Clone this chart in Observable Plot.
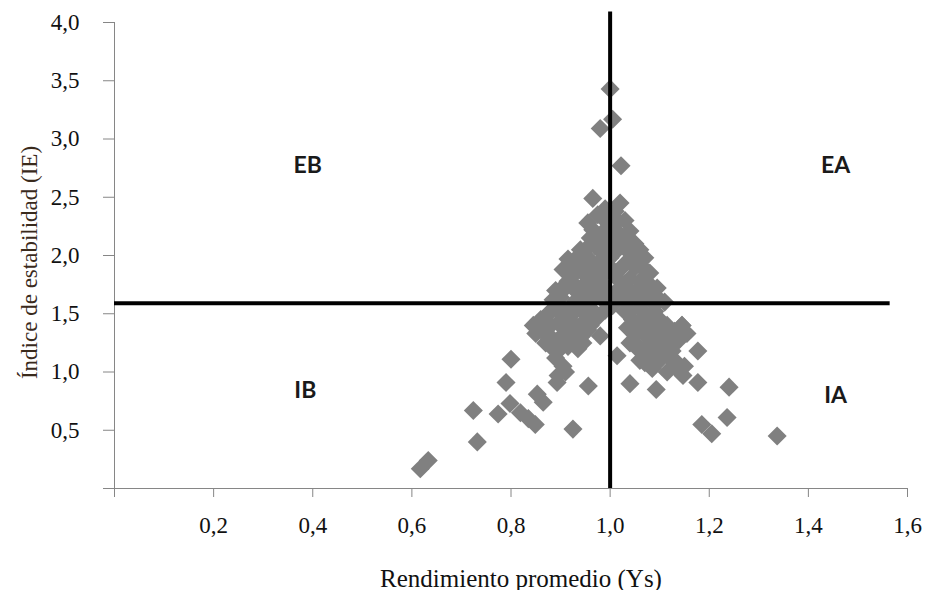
<!DOCTYPE html>
<html>
<head>
<meta charset="utf-8">
<script src="https://cdn.jsdelivr.net/npm/d3@7"></script>
<script src="https://cdn.jsdelivr.net/npm/@observablehq/plot@0.6"></script>
<style>
  body { margin: 0; background: #fff; }
  #chart svg [aria-label="x-axis tick"], #chart svg [aria-label="y-axis tick"] { stroke: #868686; }
  #chart svg [aria-label="x-axis tick label"], #chart svg [aria-label="y-axis tick label"] {
    fill: #111; font-family: "Liberation Serif", "Times New Roman", serif; font-size: 23px;
  }
  #chart svg .titulo-x { font-family: "Liberation Serif", "Times New Roman", serif; font-size: 25px; }
  #chart svg .titulo-y { font-family: "Liberation Serif", "Times New Roman", serif; font-size: 23px; }
  #chart svg .cuadrante { font-family: Lato, "Open Sans", sans-serif; font-weight: bold; font-size: 23px; }
</style>
</head>
<body>
<div id="chart"></div>
<script>
// Rendimiento promedio (Ys) of each genotype
const rendimiento = [
  1.00, 0.98, 1.005, 1.022, 0.965, 1.02,
  0.955, 0.975, 0.99, 1.01, 1.04, 1.03,
  0.96, 0.985, 1.005, 1.02, 1.05,
  0.94, 0.97, 0.995, 1.015, 1.04, 1.06, 1.07,
  0.915, 0.935, 0.955, 0.98, 1.0, 1.03, 1.05, 1.07, 1.08,
  0.905, 0.925, 0.945, 0.965, 0.99, 1.01, 1.04, 1.06, 1.08, 1.095,
  0.89, 0.91, 0.935, 0.955, 0.975, 0.995, 1.02, 1.045, 1.065, 1.09, 1.1, 1.11,
  0.885, 0.90, 0.93, 0.96, 0.985, 1.005, 1.03, 1.06, 1.085,
  0.965, 0.99, 1.015, 0.975, 1.03, 0.95, 0.985, 1.05, 0.93, 0.965, 1.0, 1.02,
  1.06, 0.915, 0.95, 0.98, 1.03, 1.07, 0.90, 0.945, 1.01, 1.055, 1.08,
  0.93, 0.97, 1.04, 1.07, 0.96, 0.99, 1.01, 0.95,
  1.005, 0.99,
  0.845, 0.86, 0.875, 0.89, 0.905, 0.92, 0.935, 0.95, 0.965,
  0.85, 0.865, 0.88, 0.895, 0.91, 0.925, 0.94, 0.955,
  0.87, 0.885, 0.90, 0.915, 0.93, 0.945,
  0.89, 0.905, 0.895, 0.91,
  0.865, 0.88, 0.905, 0.925, 0.87, 0.905, 0.935, 0.895, 0.92, 0.96,
  0.88, 0.94, 0.96, 0.91,
  0.98, 0.975,
  0.80, 0.79, 0.893, 0.956, 0.853, 0.865, 0.798, 0.774, 0.724, 0.732,
  0.617, 0.633, 0.819, 0.835, 0.849, 0.925,
  1.03, 1.045, 1.06, 1.075, 1.09, 1.10, 1.115, 1.13, 1.145,
  1.035, 1.05, 1.065, 1.08, 1.095, 1.11, 1.125, 1.14, 1.155,
  1.04, 1.06, 1.075, 1.09, 1.105, 1.12, 1.135, 1.15,
  1.07, 1.085, 1.10, 1.115,
  1.04, 1.055, 1.085, 1.07, 1.10, 1.05, 1.085, 1.12, 1.10, 1.125, 1.07, 1.13,
  1.05, 1.10, 1.12, 1.06, 1.09,
  1.014, 1.04, 1.093, 1.147, 1.177, 1.177, 1.145,
  1.185, 1.205, 1.236, 1.24, 1.337
];

// Índice de estabilidad (IE) of each genotype
const estabilidad = [
  3.43, 3.09, 3.17, 2.77, 2.49, 2.45,
  2.28, 2.35, 2.40, 2.38, 2.21, 2.30,
  2.15, 2.20, 2.25, 2.18, 2.10,
  2.05, 2.08, 2.12, 2.05, 2.02, 2.05, 1.98,
  1.97, 1.99, 1.92, 1.95, 1.98, 1.93, 1.90, 1.88, 1.85,
  1.88, 1.83, 1.85, 1.80, 1.85, 1.82, 1.80, 1.78, 1.75, 1.72,
  1.70, 1.75, 1.72, 1.68, 1.72, 1.70, 1.72, 1.68, 1.66, 1.65, 1.62, 1.60,
  1.62, 1.64, 1.61, 1.63, 1.62, 1.64, 1.61, 1.62, 1.60,
  2.22, 2.30, 2.30, 2.12, 2.12, 2.05, 2.02, 1.98, 1.90, 1.88, 1.90, 1.88,
  1.95, 1.78, 1.76, 1.78, 1.76, 1.72, 1.68, 1.65, 1.68, 1.70, 1.68,
  1.70, 1.66, 1.64, 1.62, 1.96, 2.05, 2.15, 1.85,
  1.57, 1.53,
  1.40, 1.45, 1.50, 1.55, 1.52, 1.48, 1.55, 1.50, 1.45,
  1.33, 1.37, 1.30, 1.42, 1.38, 1.33, 1.40, 1.36,
  1.25, 1.20, 1.27, 1.22, 1.28, 1.25,
  1.12, 1.05, 0.97, 1.00,
  1.45, 1.40, 1.45, 1.42, 1.32, 1.32, 1.20, 1.18, 1.55, 1.55,
  1.52, 1.30, 1.40, 1.28,
  1.31, 1.47,
  1.11, 0.91, 0.91, 0.88, 0.81, 0.74, 0.73, 0.64, 0.67, 0.40,
  0.17, 0.24, 0.65, 0.60, 0.55, 0.51,
  1.52, 1.45, 1.55, 1.48, 1.52, 1.45, 1.40, 1.35, 1.40,
  1.38, 1.32, 1.38, 1.30, 1.35, 1.28, 1.22, 1.28, 1.33,
  1.25, 1.18, 1.22, 1.15, 1.20, 1.12, 1.08, 1.05,
  1.08, 1.03, 1.10, 1.00,
  1.52, 1.42, 1.42, 1.32, 1.30, 1.25, 1.25, 1.32, 1.15, 1.18, 1.15, 1.05,
  1.38, 1.40, 1.25, 1.10, 1.08,
  1.14, 0.90, 0.85, 0.97, 1.18, 0.91, 1.40,
  0.55, 0.47, 0.61, 0.87, 0.45
];

// Mean yield and mean stability index splitting the four quadrants
const mediaYs = 1.0;
const mediaIE = 1.59;

const cuadrantes = ["EB", "EA", "IB", "IA"];
const cuadranteX = [0.39, 1.455, 0.385, 1.455];
const cuadranteY = [2.77, 2.77, 0.84, 0.80];

const xTicks = [0, 0.2, 0.4, 0.6, 0.8, 1.0, 1.2, 1.4, 1.6];
const xTickLabels = ["", "0,2", "0,4", "0,6", "0,8", "1,0", "1,2", "1,4", "1,6"];
const yTicks = [0, 0.5, 1.0, 1.5, 2.0, 2.5, 3.0, 3.5, 4.0];
const yTickLabels = ["", "0,5", "1,0", "1,5", "2,0", "2,5", "3,0", "3,5", "4,0"];

const puntos = rendimiento.map((x, i) => ({x, y: estabilidad[i]}));
const etiquetas = cuadrantes.map((t, i) => ({t, x: cuadranteX[i], y: cuadranteY[i]}));

const chart = Plot.plot({
  width: 932,
  height: 590,
  marginLeft: 114,
  marginRight: 25,
  marginTop: 22,
  marginBottom: 102,
  x: {domain: [0, 1.6]},
  y: {domain: [0, 4]},
  style: {fontFamily: "Liberation Serif", fontSize: "20px", background: "#fff", overflow: "visible"},
  marks: [
    Plot.axisX({ticks: xTicks, tickFormat: d => xTickLabels[xTicks.indexOf(d)], tickSize: 9, tickPadding: 19, label: null}),
    Plot.axisY({ticks: yTicks, tickFormat: d => yTickLabels[yTicks.indexOf(d)], tickSize: 11, tickPadding: 24, label: null}),
    Plot.ruleX([0], {y1: 0, y2: 4, stroke: "#868686"}),
    Plot.ruleY([0], {x1: 0, x2: 1.6, stroke: "#868686"}),
    Plot.dot(puntos, {x: "x", y: "y", symbol: "diamond2", r: 8.6, fill: "#808080", stroke: null}),
    Plot.ruleY([mediaIE], {x1: 0, x2: 1.565, stroke: "#000", strokeWidth: 4}),
    Plot.ruleX([mediaYs], {y1: 0, y2: 4.09, stroke: "#000", strokeWidth: 4}),
    Plot.text(etiquetas, {x: "x", y: "y", text: "t", className: "cuadrante", fill: "#1a1a1a"}),
    Plot.text(["Rendimiento promedio (Ys)"], {frameAnchor: "bottom", textAnchor: "middle", dx: 10, dy: 98, className: "titulo-x", fill: "#111"}),
    Plot.text(["Índice de estabilidad (IE)"], {frameAnchor: "left", textAnchor: "middle", dx: -85, dy: 7, rotate: -90, className: "titulo-y", fill: "#3a2a1c"})
  ]
});

document.getElementById("chart").append(chart);
</script>
</body>
</html>
